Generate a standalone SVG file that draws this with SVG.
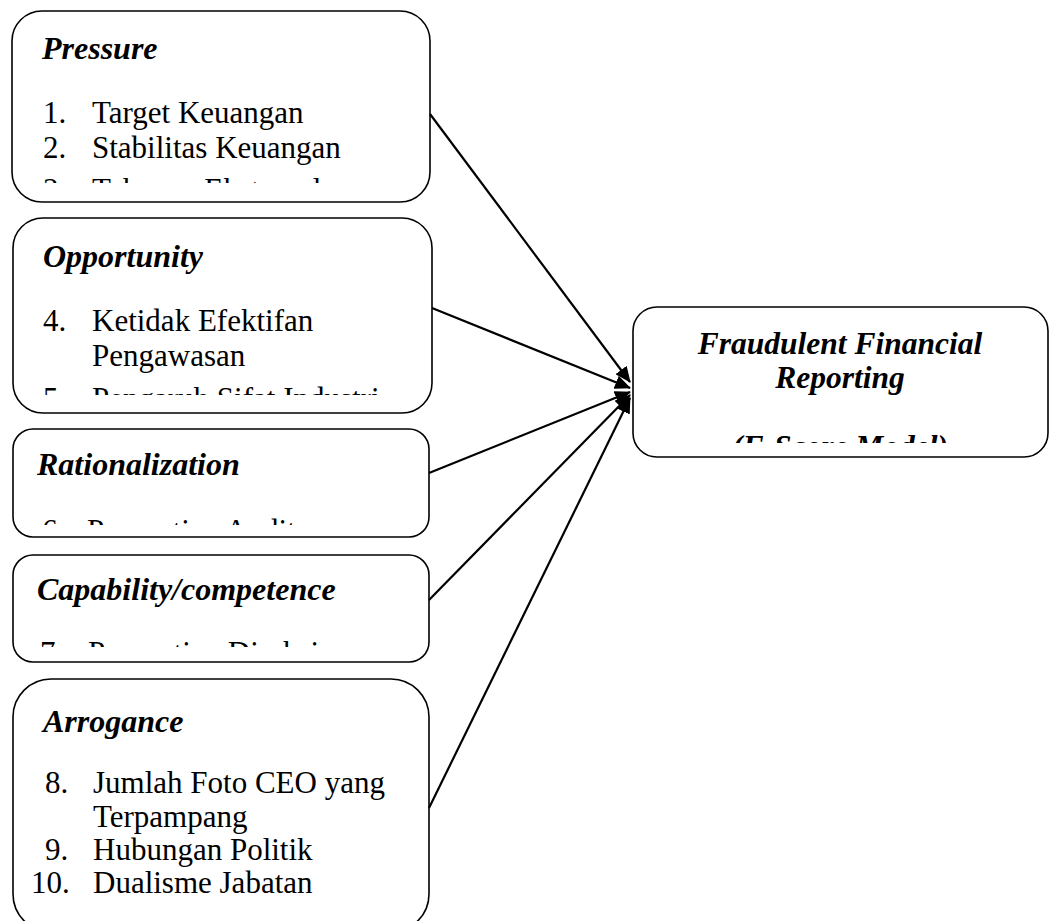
<svg xmlns="http://www.w3.org/2000/svg" width="1050" height="921" viewBox="0 0 1050 921">
  <style>
    .box { fill: #ffffff; stroke: #000000; stroke-width: 1.6; }
    .t { font-family: "Liberation Serif", "Times New Roman", serif; font-size: 31px; fill: #000000; }
    .h { font-family: "Liberation Serif", "Times New Roman", serif; font-size: 32px; font-weight: bold; font-style: italic; fill: #000000; }
    .conn { stroke: #000000; stroke-width: 2.2; fill: none; marker-end: url(#arr); }
  </style>
  <defs>
    <marker id="arr" markerUnits="userSpaceOnUse" markerWidth="16" markerHeight="14" refX="15" refY="7" orient="auto">
      <path d="M0,0 L16,7 L0,14 z" fill="#000000"/>
    </marker>
    <clipPath id="c1"><rect x="12" y="11" width="418" height="172"/></clipPath>
    <clipPath id="c2"><rect x="13" y="218" width="419" height="177"/></clipPath>
    <clipPath id="c3"><rect x="13" y="429" width="416" height="96"/></clipPath>
    <clipPath id="c4"><rect x="13" y="555" width="416" height="92"/></clipPath>
    <clipPath id="c6"><rect x="633" y="307" width="415" height="136"/></clipPath>
  </defs>
  <rect width="1050" height="921" fill="#ffffff"/>

  <g id="pressure">
    <rect class="box" x="12" y="11" width="418" height="191" rx="30" ry="30"/>
    <g clip-path="url(#c1)">
      <text class="h" x="42" y="59">Pressure</text>
      <text class="t" x="43" y="123">1.</text><text class="t" x="92" y="123">Target Keuangan</text>
      <text class="t" x="43" y="158">2.</text><text class="t" x="92" y="158">Stabilitas Keuangan</text>
      <text class="t" x="43" y="200">3.</text><text class="t" x="92" y="200">Tekanan Eksternal</text>
    </g>
  </g>

  <g id="opportunity">
    <rect class="box" x="13" y="218" width="419" height="195" rx="30" ry="30"/>
    <g clip-path="url(#c2)">
      <text class="h" x="43" y="267">Opportunity</text>
      <text class="t" x="43" y="331">4.</text><text class="t" x="92" y="331">Ketidak Efektifan</text>
      <text class="t" x="92" y="366">Pengawasan</text>
      <text class="t" x="43" y="409">5.</text><text class="t" x="92" y="409">Pengaruh Sifat Industri</text>
    </g>
  </g>

  <g id="rationalization">
    <rect class="box" x="13" y="429" width="416" height="108" rx="20" ry="20"/>
    <g clip-path="url(#c3)">
      <text class="h" x="37" y="475">Rationalization</text>
      <text class="t" x="42" y="541">6.</text><text class="t" x="87" y="541">Pergantian Auditor</text>
    </g>
  </g>

  <g id="capability">
    <rect class="box" x="13" y="555" width="416" height="107" rx="20" ry="20"/>
    <g clip-path="url(#c4)">
      <text class="h" x="37" y="600">Capability/competence</text>
      <text class="t" x="40" y="663">7.</text><text class="t" x="88" y="663">Pergantian Direksi</text>
    </g>
  </g>

  <g id="arrogance">
    <rect class="box" x="13" y="679" width="416" height="253" rx="38" ry="38"/>
    <text class="h" x="43" y="732">Arrogance</text>
    <text class="t" x="45" y="793">8.</text><text class="t" x="93" y="793">Jumlah Foto CEO yang</text>
    <text class="t" x="93" y="827">Terpampang</text>
    <text class="t" x="45" y="860">9.</text><text class="t" x="93" y="860">Hubungan Politik</text>
    <text class="t" x="31" y="893">10.</text><text class="t" x="93" y="893">Dualisme Jabatan</text>
  </g>

  <g id="fraud">
    <rect class="box" x="633" y="307" width="415" height="150" rx="24" ry="24"/>
    <g clip-path="url(#c6)">
      <text class="h" x="840" y="354" text-anchor="middle" style="font-size:31.5px">Fraudulent Financial</text>
      <text class="h" x="840" y="388" text-anchor="middle" style="font-size:31.5px">Reporting</text>
      <text class="h" x="840" y="457" text-anchor="middle" style="font-size:31.5px">(F-Score Model)</text>
    </g>
  </g>

  <g id="connectors">
    <line class="conn" x1="430" y1="114" x2="630" y2="382"/>
    <line class="conn" x1="432" y1="308" x2="630" y2="388"/>
    <line class="conn" x1="429" y1="473" x2="630" y2="392"/>
    <line class="conn" x1="429" y1="600" x2="630" y2="395"/>
    <line class="conn" x1="429" y1="808" x2="630" y2="398"/>
  </g>
</svg>
